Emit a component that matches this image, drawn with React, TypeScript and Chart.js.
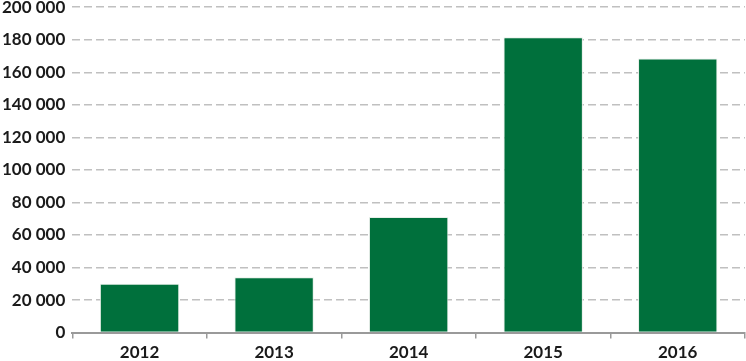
import React, { useEffect, useRef } from "react";
import { Chart, registerables } from "chart.js";

Chart.register(...registerables);

const categories = ["2012", "2013", "2014", "2015", "2016"];
const values = [30000, 34000, 71000, 181500, 168500];
const yMin = 0;
const yMax = 200000;
const yStep = 20000;

function fmt(v: number): string {
  return Math.round(v).toString().replace(/\B(?=(\d{3})+(?!\d))/g, " ");
}

const W = 751;
const H = 377;

export default function App() {
  const ref = useRef<HTMLCanvasElement | null>(null);
  useEffect(() => {
    if (!ref.current) return;
    const chart = new Chart(ref.current, {
      type: "bar",
      data: {
        labels: categories,
        datasets: [
          {
            data: values,
            backgroundColor: "#00703c",
            borderColor: "#e8efe9",
            borderWidth: 1,
            categoryPercentage: 0.59,
            barPercentage: 1,
          },
        ],
      },
      options: {
        animation: false,
        responsive: false,
        maintainAspectRatio: false,
        layout: { padding: { top: 0, right: 1, left: 0, bottom: 0 } },
        plugins: { legend: { display: false }, tooltip: { enabled: false } },
        scales: {
          x: {
            grid: {
              offset: true,
              drawOnChartArea: false,
              color: "#9a9a9a",
              tickLength: 6,
              lineWidth: 1.5,
            },
            border: { color: "#9a9a9a", width: 2 },
            ticks: {
              color: "#1a1a1a",
              font: { family: "Lato", size: 17, weight: "bold" },
              padding: 4,
            },
          },
          y: {
            min: yMin,
            max: yMax,
            grid: {
              color: "#c0c0c0",
              lineWidth: 1.5,
              drawTicks: false,
            },
            border: { display: false, dash: [8, 4] },
            ticks: {
              stepSize: yStep,
              color: "#1a1a1a",
              font: { family: "Lato", size: 17, weight: "bold" },
              padding: 7,
              callback: (v: any) => fmt(Number(v)),
            },
          },
        },
      },
    });
    return () => chart.destroy();
  }, []);
  return (
    <div style={{ position: "absolute", left: 0, top: 0, width: 746, height: 361, overflow: "hidden" }}>
      <canvas
        ref={ref}
        width={W}
        height={H}
        style={{ position: "absolute", left: -5, top: -10, width: W, height: H }}
      />
    </div>
  );
}
